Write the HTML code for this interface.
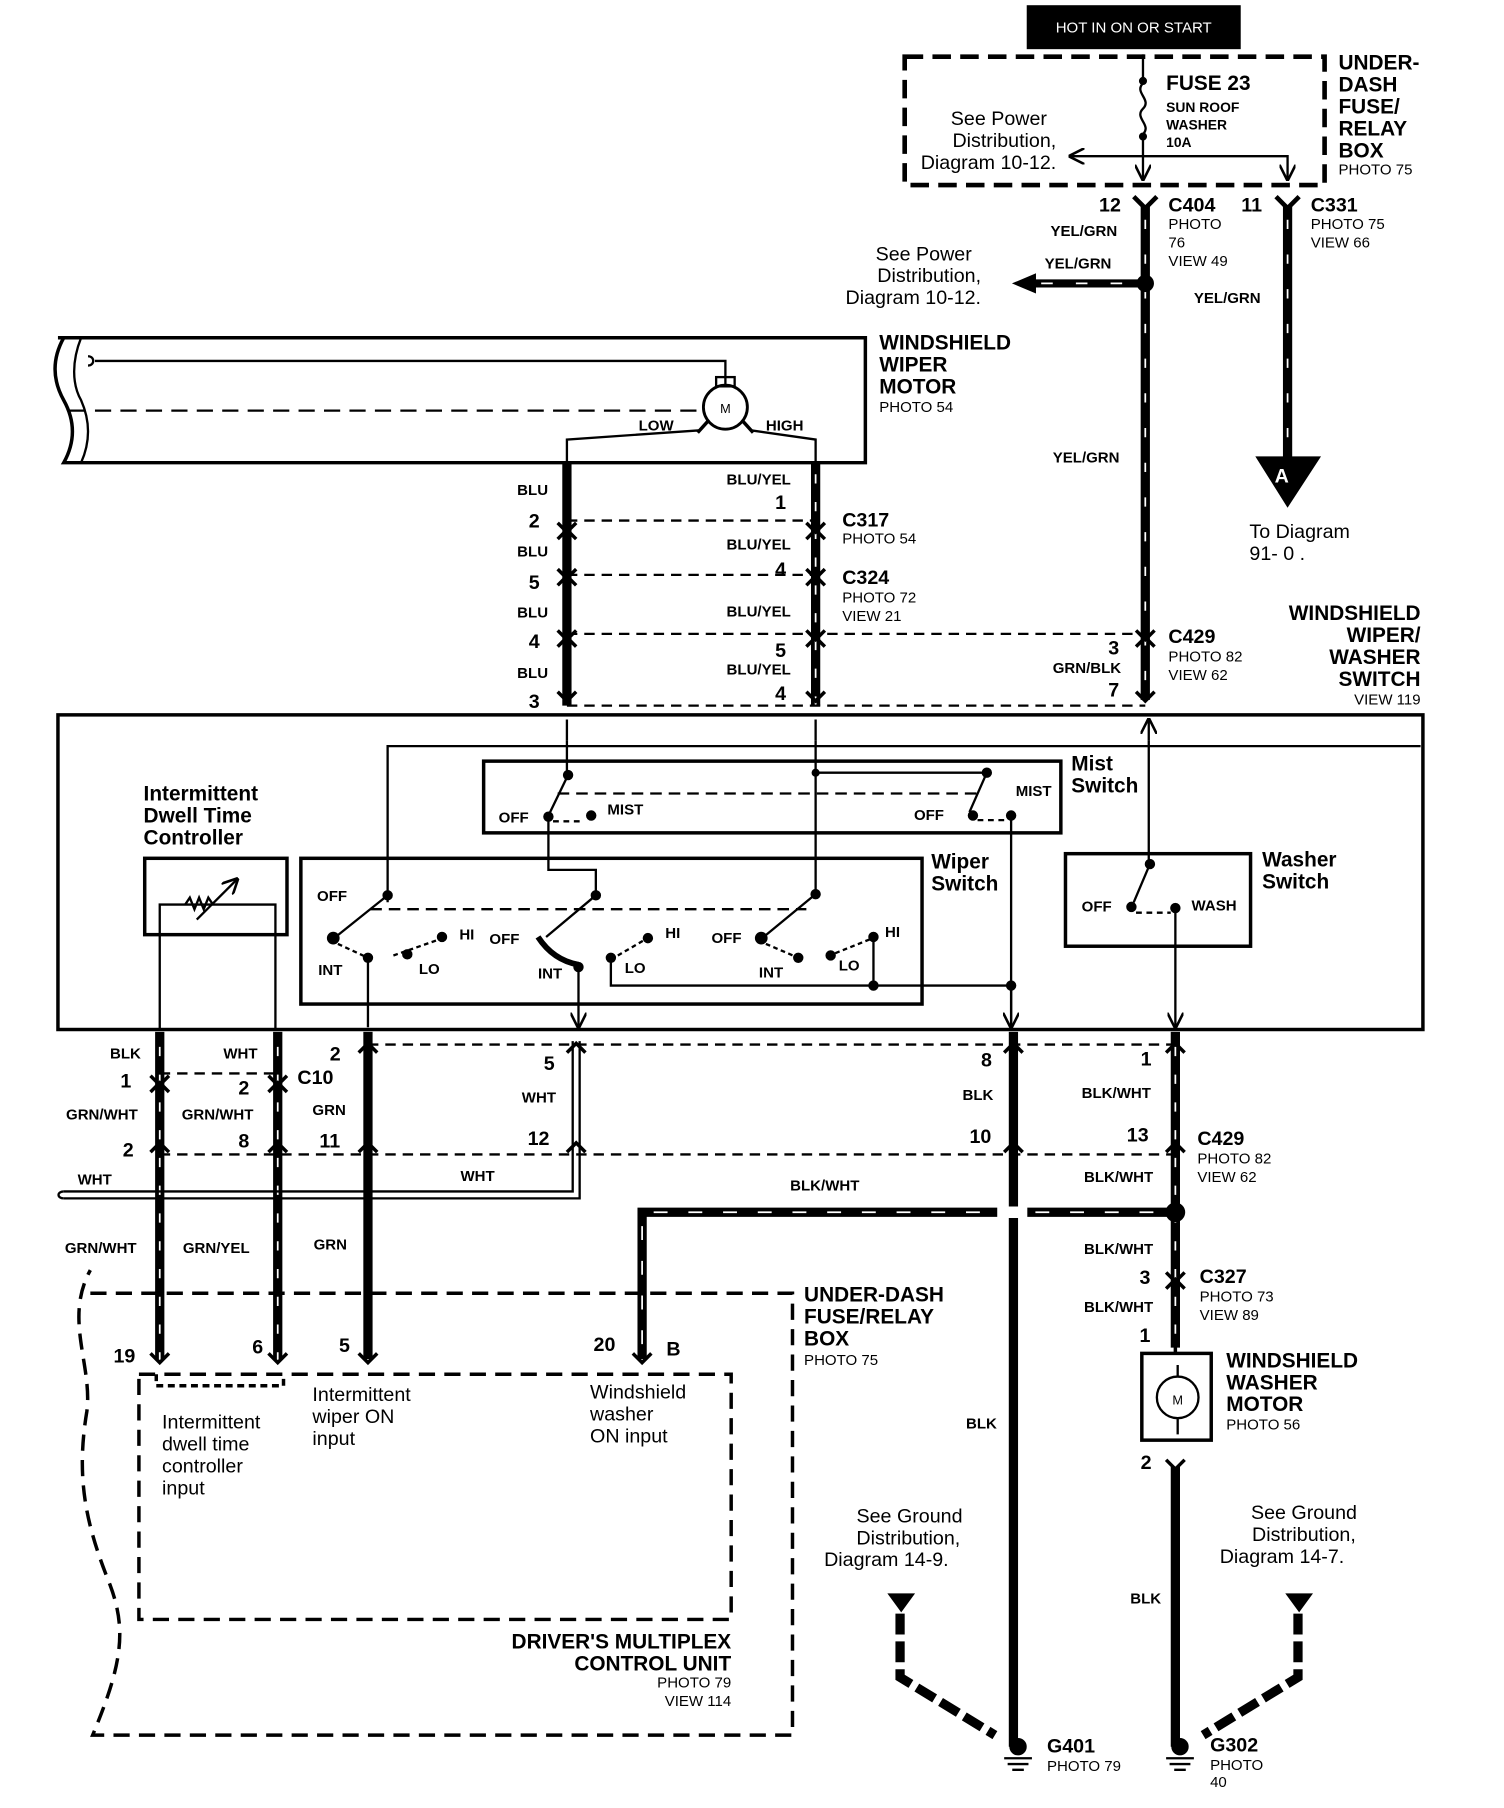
<!DOCTYPE html>
<html><head><style>
html,body{margin:0;padding:0;background:#fff}
svg{display:block}
text{font-family:"Liberation Sans",Arial,sans-serif;fill:#000}
.b{font-weight:bold}
</style></head><body>
<svg width="1504" height="1808" viewBox="0 0 1300 1563" xmlns="http://www.w3.org/2000/svg">
<defs>
<marker id="ar" viewBox="0 0 10 10" refX="9" refY="5" markerWidth="7" markerHeight="7" orient="auto"><path d="M0,0 L10,5 L0,10" fill="none" stroke="#000" stroke-width="1.6"/></marker>
</defs>
<g fill="none" stroke="#000">
<!-- top -->
<rect x="888" y="5" width="184" height="37" fill="#000"/>
<path d="M782,49 H1145 V160 H782 Z" stroke-width="4" stroke-dasharray="16 8"/>
<path d="M988,47 V68" stroke-width="2"/>
<circle cx="988" cy="70" r="3" fill="#000"/>
<path d="M988,72 c-8,8 8,14 0,22 c-8,8 8,14 0,22" stroke-width="2"/>
<circle cx="988" cy="118" r="3" fill="#000"/>
<path d="M988,118 V155" stroke-width="2" marker-end="url(#ar)"/>
<path d="M988,135 H925" stroke-width="2" marker-end="url(#ar)"/>
<path d="M988,135 H1113 V155" stroke-width="2" marker-end="url(#ar)"/>
<!-- C404 wire -->
<path d="M990,178 V605" stroke-width="8"/>
<path d="M990,190 V605" stroke="#fff" stroke-width="1.5" stroke-dasharray="8 22"/>
<path d="M980,170 L990,180 L1000,170" stroke-width="4"/>
<circle cx="990" cy="245" r="7" fill="#000"/>
<path d="M990,245 H895" stroke-width="7"/>
<path d="M895,237 L876,245 L895,253 Z" fill="#000"/>
<path d="M900,245 H980" stroke="#fff" stroke-width="1.5" stroke-dasharray="10 20"/>
<!-- C331 wire -->
<path d="M1113,178 V400" stroke-width="8"/>
<path d="M1113,190 V400" stroke="#fff" stroke-width="1.5" stroke-dasharray="8 22"/>
<path d="M1103,170 L1113,180 L1123,170" stroke-width="4"/>
<path d="M1086,395 H1141 L1113,438 Z" fill="#000"/>
<!-- wiper motor -->
<path d="M50,292 H748 V400 H55 c10,-18 10,-36 0,-54 c-10,-18 -10,-36 0,-54" stroke-width="3"/>
<path d="M70,292 c-8,20 -8,40 0,54 c8,18 8,36 0,54" stroke-width="2"/>
<path d="M82,312 H627 V332" stroke-width="2"/>
<path d="M76,308 c6,0 6,8 0,8" stroke-width="2"/>
<path d="M60,355 H605" stroke-width="2" stroke-dasharray="14 8"/>
<rect x="619" y="326" width="16" height="8" stroke-width="2"/>
<circle cx="627" cy="352" r="19" stroke-width="2.5"/>
<path d="M612,364 L603,374 M642,364 L651,374" stroke-width="3"/>
<path d="M605,372 L490,380 V400 M649,372 L705,380 V400" stroke-width="2"/>
<!-- BLU / BLU-YEL wires -->
<path d="M490,400 V610" stroke-width="8"/>
<path d="M705,400 V610" stroke-width="8"/>
<path d="M705,410 V610" stroke="#fff" stroke-width="1.5" stroke-dasharray="8 16"/>
<g stroke-width="2" stroke-dasharray="9 6">
<path d="M490,450 H705"/><path d="M490,497 H705"/><path d="M490,548 H990"/><path d="M490,610 H990"/>
</g>
<g stroke-width="3">
<path d="M482,452 L490,460 L498,452 M482,466 L490,458 L498,466"/>
<path d="M697,452 L705,460 L713,452 M697,466 L705,458 L713,466"/>
<path d="M482,492 L490,500 L498,492 M482,506 L490,498 L498,506"/>
<path d="M697,492 L705,500 L713,492 M697,506 L705,498 L713,506"/>
<path d="M482,545 L490,553 L498,545 M482,559 L490,551 L498,559"/>
<path d="M697,545 L705,553 L713,545 M697,559 L705,551 L713,559"/>
<path d="M982,545 L990,553 L998,545 M982,559 L990,551 L998,559"/>
<path d="M482,598 L490,606 L498,598 M697,598 L705,606 L713,598 M982,598 L990,606 L998,598"/>
</g>
<!-- switch box -->
<rect x="50" y="618" width="1180" height="272" stroke-width="3"/>
<path d="M490,640 V622 M705,640 V622 M993,640 V622" stroke-width="2" marker-end="url(#ar)"/>
<path d="M335,780 V645 H1228 M993,640 V745" stroke-width="2"/>
<rect x="418" y="658" width="499" height="62" stroke-width="3"/>
<path d="M490,640 V668 M705,640 V668 H853" stroke-width="2"/>
<circle cx="491" cy="670" r="4" fill="#000"/><circle cx="705" cy="668" r="3" fill="#000"/><circle cx="853" cy="668" r="4" fill="#000"/>
<path d="M491,670 L475,703 M853,668 L838,702" stroke-width="2"/>
<path d="M482,686 H845" stroke-width="2" stroke-dasharray="10 6"/>
<circle cx="474" cy="706" r="4" fill="#000"/><circle cx="511" cy="705" r="4" fill="#000"/>
<circle cx="841" cy="705" r="4" fill="#000"/><circle cx="874" cy="705" r="4" fill="#000"/>
<path d="M478,710 H505 M845,709 H870" stroke-width="2" stroke-dasharray="5 4"/>
<path d="M474,706 V752 H515 V773 M705,668 V773 M874,705 V888" stroke-width="2"/>
<rect x="260" y="742" width="537" height="126" stroke-width="3"/>
<circle cx="335" cy="774" r="4" fill="#000"/><circle cx="515" cy="774" r="4" fill="#000"/><circle cx="705" cy="773" r="4" fill="#000"/>
<path d="M335,774 L290,810 M515,774 L472,810 M705,773 L660,810" stroke-width="2"/>
<path d="M320,786 H697" stroke-width="2" stroke-dasharray="10 6"/>
<circle cx="288" cy="811" r="5" fill="#000"/><circle cx="318" cy="828" r="4" fill="#000"/><circle cx="352" cy="825" r="4" fill="#000"/><circle cx="382" cy="810" r="4" fill="#000"/>
<path d="M292,816 L318,828 M340,826 L380,812" stroke-width="2" stroke-dasharray="4 3"/>
<path d="M465,810 Q478,830 500,834" stroke-width="5"/>
<circle cx="500" cy="836" r="4" fill="#000"/><circle cx="528" cy="828" r="4" fill="#000"/><circle cx="560" cy="811" r="4" fill="#000"/>
<circle cx="658" cy="811" r="5" fill="#000"/><circle cx="690" cy="828" r="4" fill="#000"/><circle cx="718" cy="826" r="4" fill="#000"/><circle cx="755" cy="810" r="4" fill="#000"/>
<path d="M662,816 L690,828 M722,824 L752,812 M534,826 L558,812" stroke-width="2" stroke-dasharray="4 3"/>
<path d="M318,828 V888 M500,836 V888" stroke-width="2" marker-end="url(#ar)"/>
<path d="M528,828 V852 H874 M755,810 V852" stroke-width="2"/>
<circle cx="755" cy="852" r="4" fill="#000"/><circle cx="874" cy="852" r="4" fill="#000"/>
<path d="M874,852 V888" stroke-width="2" marker-end="url(#ar)"/>
<rect x="921" y="738" width="160" height="80" stroke-width="3"/>
<circle cx="994" cy="747" r="4" fill="#000"/>
<path d="M994,747 L980,780" stroke-width="2"/>
<circle cx="978" cy="784" r="4" fill="#000"/><circle cx="1016" cy="785" r="4" fill="#000"/>
<path d="M982,789 H1012" stroke-width="2" stroke-dasharray="5 4"/>
<path d="M1016,785 V888" stroke-width="2" marker-end="url(#ar)"/>
<rect x="125" y="742" width="123" height="66" stroke-width="3"/>
<path d="M138,890 V782 H238 V890" stroke-width="2"/>
<path d="M160,782 l4,-6 l4,10 l4,-10 l4,10 l4,-10 l4,6" stroke-width="2"/>
<path d="M170,795 L205,760" stroke-width="2" marker-end="url(#ar)"/>
<!-- bottom wires -->
<path d="M138,892 V1175 M240,892 V1175" stroke-width="8"/>
<path d="M138,905 V1175 M240,905 V1175" stroke="#fff" stroke-width="1.5" stroke-dasharray="8 16"/>
<path d="M318,892 V1175" stroke-width="8"/>
<path d="M495,900 V1030 H55 M501,900 V1036 H55" stroke-width="2"/>
<path d="M55,1030 c-6,0 -6,6 0,6" stroke-width="2"/>
<path d="M876,892 V1510" stroke-width="8"/>
<path d="M1016,892 V1165" stroke-width="8"/>
<path d="M1016,905 V1165" stroke="#fff" stroke-width="1.5" stroke-dasharray="8 16"/>
<g stroke-width="2" stroke-dasharray="9 6">
<path d="M138,928 H240"/><path d="M318,903 H1016"/><path d="M138,998 H1016"/>
</g>
<g stroke-width="3">
<path d="M130,930 L138,938 L146,930 M232,930 L240,938 L248,930 M130,944 L138,936 L146,944 M232,944 L240,936 L248,944"/>
<path d="M130,996 L138,988 L146,996 M232,996 L240,988 L248,996 M310,996 L318,988 L326,996 M490,996 L498,988 L506,996 M868,996 L876,988 L884,996 M1008,996 L1016,988 L1024,996"/>
<path d="M310,910 L318,902 L326,910 M490,910 L498,902 L506,910 M868,910 L876,902 L884,910 M1008,910 L1016,902 L1024,910"/>
<path d="M1008,1100 L1016,1108 L1024,1100 M1008,1114 L1016,1106 L1024,1114"/>
<path d="M130,1170 L138,1178 L146,1170 M232,1170 L240,1178 L248,1170 M310,1170 L318,1178 L326,1170 M547,1170 L555,1178 L563,1170"/>
</g>
<path d="M555,1048 H1016 M555,1044 V1175" stroke-width="8"/>
<path d="M565,1048 H1010 M555,1060 V1170" stroke="#fff" stroke-width="1.5" stroke-dasharray="12 18"/>
<path d="M862,1048 H888" stroke="#fff" stroke-width="10"/>
<circle cx="1016" cy="1048" r="8" fill="#000"/>
<!-- DMCU -->
<path d="M78,1118 H685 V1500 H80 c25,-60 30,-90 15,-130 c-20,-50 -30,-90 -20,-150 c5,-40 -20,-80 3,-122" stroke-width="3" stroke-dasharray="14 8"/>
<path d="M120,1188 H632 V1400 H120 Z" stroke-width="3" stroke-dasharray="14 8"/>
<path d="M135,1188 V1198 H245 V1188" stroke-width="3" stroke-dasharray="6 4"/>
<!-- washer motor -->
<path d="M1016,1160 V1170" stroke-width="3"/>
<rect x="987" y="1170" width="60" height="75" stroke-width="3"/>
<circle cx="1018" cy="1208" r="18" stroke-width="2"/>
<path d="M1018,1180 V1190 M1018,1226 V1240" stroke-width="2"/>
<path d="M1008,1262 L1016,1270 L1024,1262" stroke-width="3"/>
<path d="M1016,1268 V1510" stroke-width="8"/>
<!-- grounds -->
<path d="M778,1395 V1450 L860,1500 M1122,1395 V1450 L1040,1500" stroke-width="8" stroke-dasharray="18 6"/>
<path d="M768,1378 H790 L779,1393 Z M1112,1378 H1134 L1123,1393 Z" fill="#000"/>
<circle cx="880" cy="1510" r="7" fill="#000"/><circle cx="1020" cy="1510" r="7" fill="#000"/>
<path d="M868,1520 H892 M871,1525 H889 M875,1530 H885 M1008,1520 H1032 M1011,1525 H1029 M1015,1530 H1025" stroke-width="2"/>
</g>
<!-- TEXT -->
<text x="980" y="28" font-size="13" text-anchor="middle" style="fill:#fff">HOT IN ON OR START</text>
<g font-size="17" text-anchor="end">
<text x="905" y="108">See Power</text><text x="913" y="127">Distribution,</text><text x="913" y="146">Diagram 10-12.</text>
<text x="840" y="225">See Power</text><text x="848" y="244">Distribution,</text><text x="848" y="263">Diagram 10-12.</text>
</g>
<text x="1008" y="78" font-size="18" class="b">FUSE 23</text>
<g font-size="12" class="b"><text x="1008" y="97">SUN ROOF</text><text x="1008" y="112">WASHER</text><text x="1008" y="127">10A</text></g>
<g font-size="18" class="b"><text x="1157" y="60">UNDER-</text><text x="1157" y="79">DASH</text><text x="1157" y="98">FUSE/</text><text x="1157" y="117">RELAY</text><text x="1157" y="136">BOX</text></g>
<g font-size="13"><text x="1157" y="151">PHOTO 75</text></g>
<g font-size="17" class="b"><text x="950" y="183">12</text><text x="1073" y="183">11</text><text x="1010" y="183">C404</text><text x="1133" y="183">C331</text></g>
<g font-size="13"><text x="1010" y="198">PHOTO</text><text x="1010" y="214">76</text><text x="1010" y="230">VIEW 49</text><text x="1133" y="198">PHOTO 75</text><text x="1133" y="214">VIEW 66</text></g>
<g font-size="13" class="b"><text x="908" y="204">YEL/GRN</text><text x="903" y="232">YEL/GRN</text><text x="1032" y="262">YEL/GRN</text><text x="910" y="400">YEL/GRN</text></g>
<text x="1108" y="417" font-size="17" class="b" text-anchor="middle" style="fill:#fff">A</text>
<g font-size="17"><text x="1080" y="465">To Diagram</text><text x="1080" y="484">91- 0 .</text></g>
<g font-size="18" class="b"><text x="760" y="302">WINDSHIELD</text><text x="760" y="321">WIPER</text><text x="760" y="340">MOTOR</text></g>
<text x="760" y="356" font-size="13">PHOTO 54</text>
<g font-size="13" class="b"><text x="552" y="372">LOW</text><text x="662" y="372">HIGH</text>
<text x="447" y="428">BLU</text><text x="447" y="481">BLU</text><text x="447" y="534">BLU</text><text x="447" y="586">BLU</text>
<text x="628" y="419">BLU/YEL</text><text x="628" y="475">BLU/YEL</text><text x="628" y="533">BLU/YEL</text><text x="628" y="583">BLU/YEL</text>
<text x="910" y="582">GRN/BLK</text></g>
<g font-size="17" class="b"><text x="457" y="456">2</text><text x="457" y="509">5</text><text x="457" y="560">4</text><text x="457" y="612">3</text>
<text x="670" y="440">1</text><text x="670" y="498">4</text><text x="670" y="568">5</text><text x="670" y="605">4</text>
<text x="958" y="566">3</text><text x="958" y="602">7</text>
<text x="728" y="455">C317</text><text x="728" y="505">C324</text><text x="1010" y="556">C429</text></g>
<g font-size="13"><text x="728" y="470">PHOTO 54</text><text x="728" y="521">PHOTO 72</text><text x="728" y="537">VIEW 21</text><text x="1010" y="572">PHOTO 82</text><text x="1010" y="588">VIEW 62</text></g>
<g font-size="18" class="b" text-anchor="end"><text x="1228" y="536">WINDSHIELD</text><text x="1228" y="555">WIPER/</text><text x="1228" y="574">WASHER</text><text x="1228" y="593">SWITCH</text></g>
<text x="1228" y="609" font-size="13" text-anchor="end">VIEW 119</text>
<g font-size="18" class="b"><text x="124" y="692">Intermittent</text><text x="124" y="711">Dwell Time</text><text x="124" y="730">Controller</text>
<text x="926" y="666">Mist</text><text x="926" y="685">Switch</text><text x="805" y="751">Wiper</text><text x="805" y="770">Switch</text>
<text x="1091" y="749">Washer</text><text x="1091" y="768">Switch</text></g>
<g font-size="13" class="b"><text x="431" y="711">OFF</text><text x="525" y="704">MIST</text><text x="790" y="709">OFF</text><text x="878" y="688">MIST</text>
<text x="274" y="779">OFF</text><text x="397" y="812">HI</text><text x="275" y="843">INT</text><text x="362" y="842">LO</text>
<text x="423" y="816">OFF</text><text x="575" y="811">HI</text><text x="465" y="846">INT</text><text x="540" y="841">LO</text>
<text x="615" y="815">OFF</text><text x="765" y="810">HI</text><text x="656" y="845">INT</text><text x="725" y="839">LO</text>
<text x="935" y="788">OFF</text><text x="1030" y="787">WASH</text>
<text x="95" y="915">BLK</text><text x="193" y="915">WHT</text><text x="57" y="968">GRN/WHT</text><text x="157" y="968">GRN/WHT</text><text x="270" y="964">GRN</text>
<text x="451" y="953">WHT</text><text x="832" y="951">BLK</text><text x="935" y="949">BLK/WHT</text>
<text x="67" y="1024">WHT</text><text x="398" y="1021">WHT</text><text x="683" y="1029">BLK/WHT</text><text x="937" y="1022">BLK/WHT</text>
<text x="56" y="1083">GRN/WHT</text><text x="158" y="1083">GRN/YEL</text><text x="271" y="1080">GRN</text>
<text x="937" y="1084">BLK/WHT</text><text x="937" y="1134">BLK/WHT</text>
<text x="835" y="1235">BLK</text><text x="977" y="1386">BLK</text></g>
<g font-size="17" class="b"><text x="104" y="940">1</text><text x="206" y="946">2</text><text x="285" y="917">2</text><text x="257" y="937">C10</text>
<text x="106" y="1000">2</text><text x="206" y="992">8</text><text x="276" y="992">11</text><text x="456" y="990">12</text><text x="470" y="925">5</text>
<text x="848" y="922">8</text><text x="838" y="988">10</text><text x="986" y="921">1</text><text x="974" y="987">13</text><text x="1035" y="990">C429</text>
<text x="985" y="1110">3</text><text x="1037" y="1109">C327</text><text x="985" y="1160">1</text><text x="986" y="1270">2</text>
<text x="98" y="1178">19</text><text x="218" y="1170">6</text><text x="293" y="1169">5</text><text x="513" y="1168">20</text><text x="576" y="1172">B</text></g>
<g font-size="13"><text x="1035" y="1006">PHOTO 82</text><text x="1035" y="1022">VIEW 62</text><text x="1037" y="1125">PHOTO 73</text><text x="1037" y="1141">VIEW 89</text></g>
<g font-size="18" class="b"><text x="695" y="1125">UNDER-DASH</text><text x="695" y="1144">FUSE/RELAY</text><text x="695" y="1163">BOX</text>
<text x="1060" y="1182">WINDSHIELD</text><text x="1060" y="1201">WASHER</text><text x="1060" y="1220">MOTOR</text></g>
<g font-size="13"><text x="695" y="1180">PHOTO 75</text><text x="1060" y="1236">PHOTO 56</text></g>
<g font-size="17"><text x="140" y="1235">Intermittent</text><text x="140" y="1254">dwell time</text><text x="140" y="1273">controller</text><text x="140" y="1292">input</text>
<text x="270" y="1211">Intermittent</text><text x="270" y="1230">wiper ON</text><text x="270" y="1249">input</text>
<text x="510" y="1209">Windshield</text><text x="510" y="1228">washer</text><text x="510" y="1247">ON input</text></g>
<text x="1018" y="1214" font-size="11" text-anchor="middle">M</text>
<text x="627" y="357" font-size="11" text-anchor="middle">M</text>
<g font-size="17" text-anchor="end"><text x="832" y="1316">See Ground</text><text x="830" y="1335">Distribution,</text><text x="820" y="1354">Diagram 14-9.</text>
<text x="1173" y="1313">See Ground</text><text x="1172" y="1332">Distribution,</text><text x="1162" y="1351">Diagram 14-7.</text></g>
<g font-size="18" class="b" text-anchor="end"><text x="632" y="1425">DRIVER'S MULTIPLEX</text><text x="632" y="1444">CONTROL UNIT</text></g>
<g font-size="13" text-anchor="end"><text x="632" y="1459">PHOTO 79</text><text x="632" y="1475">VIEW 114</text></g>
<g font-size="17" class="b"><text x="905" y="1515">G401</text><text x="1046" y="1514">G302</text></g>
<g font-size="13"><text x="905" y="1531">PHOTO 79</text><text x="1046" y="1530">PHOTO</text><text x="1046" y="1545">40</text></g>
</svg>
</body></html>
